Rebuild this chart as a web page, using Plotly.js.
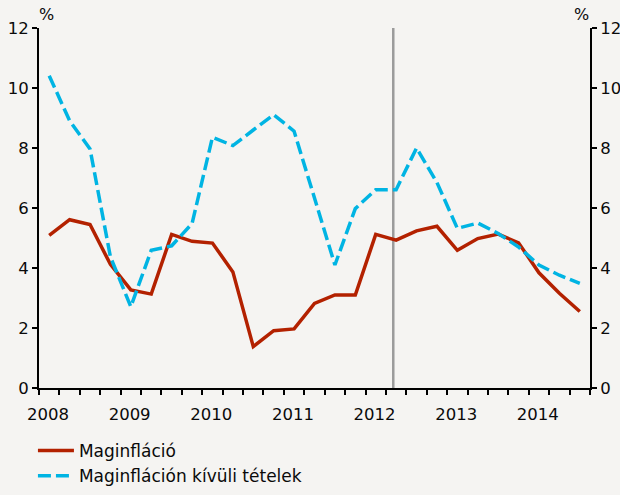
<!DOCTYPE html>
<html>
<head>
<meta charset="utf-8">
<script src="https://cdn.plot.ly/plotly-3.0.1.min.js"></script>
<style>
html, body { margin: 0; padding: 0; background: #f5f4f2; }
#chart { width: 620px; height: 495px; }
</style>
</head>
<body>
<div id="chart"></div>
<script>
// Quarterly observations
const quarters = [
  '2008Q1','2008Q2','2008Q3','2008Q4',
  '2009Q1','2009Q2','2009Q3','2009Q4',
  '2010Q1','2010Q2','2010Q3','2010Q4',
  '2011Q1','2011Q2','2011Q3','2011Q4',
  '2012Q1','2012Q2','2012Q3','2012Q4',
  '2013Q1','2013Q2','2013Q3','2013Q4',
  '2014Q1','2014Q2','2014Q3'
];
const maginflacio = [
  5.09, 5.61, 5.45, 4.12,
  3.27, 3.13, 5.12, 4.89,
  4.83, 3.87, 1.38, 1.91,
  1.97, 2.82, 3.10, 3.10,
  5.12, 4.93, 5.24, 5.39,
  4.59, 4.98, 5.13, 4.84,
  3.84, 3.16, 2.55
];
const kivuliTetelek = [
  10.41, 8.91, 7.97, 4.37,
  2.71, 4.59, 4.74, 5.48,
  8.36, 8.08, 8.60, 9.11,
  8.56, 6.30, 4.10, 5.98,
  6.61, 6.61, 8.00, 6.85,
  5.32, 5.50, 5.15, 4.70,
  4.10, 3.76, 3.49
];
const seriesNames = ['Maginfláció', 'Maginfláción kívüli tételek'];
const yearLabels = ['2008','2009','2010','2011','2012','2013','2014'];
const forecastStart = 2012.34;  // vertical separator (decimal year)

// quarter label -> decimal year at middle of the quarter
function qpos(q) {
  const y = parseInt(q.slice(0, 4), 10);
  const n = parseInt(q.slice(5), 10);
  return y + (n - 0.5) / 4;
}
const xs = quarters.map(qpos);

const firstYear = parseInt(yearLabels[0], 10);
const xMax = Math.max(...xs) + 0.125;

const tickVals = [], tickText = [];
for (let v = firstYear; v <= xMax + 1e-9; v += 0.25) {
  tickVals.push(v);
  const isYear = Math.abs(v - Math.round(v)) < 1e-9;
  tickText.push(isYear && yearLabels.includes(String(Math.round(v))) ? String(Math.round(v)) : '');
}

const FONT = 'DejaVu Sans';
const RED = '#b32100';
const BLUE = '#00b4e3';
const TXT = '#0a0a0a';

const traces = [
  {
    x: xs, y: maginflacio, name: seriesNames[0], type: 'scatter', mode: 'lines',
    line: { color: RED, width: 3.5 }
  },
  {
    x: xs, y: kivuliTetelek, name: seriesNames[1], type: 'scatter', mode: 'lines',
    line: { color: BLUE, width: 3.5, dash: '13px,5px' }
  }
];

const layout = {
  width: 620, height: 495,
  margin: { l: 39, r: 30, t: 28, b: 107 },
  paper_bgcolor: '#f5f4f2',
  plot_bgcolor: '#f5f4f2',
  font: { family: FONT, size: 16.5, color: TXT },
  showlegend: true,
  legend: {
    xref: 'paper', yref: 'container',
    x: -0.011, y: 1 - 433 / 495, xanchor: 'left', yanchor: 'top',
    bgcolor: 'rgba(0,0,0,0)', font: { family: FONT, size: 17, color: TXT },
    tracegroupgap: 0, itemwidth: 36
  },
  xaxis: {
    range: [firstYear, xMax],
    tickmode: 'array', tickvals: tickVals, ticktext: tickText,
    ticks: 'outside', ticklen: 5, tickwidth: 2, tickcolor: '#000',
    ticklabelshift: 9, ticklabelstandoff: 5, tickangle: 0,
    showline: true, linecolor: '#000', linewidth: 2,
    showgrid: false, zeroline: false, fixedrange: true
  },
  yaxis: {
    range: [0, 12], dtick: 2, tick0: 0,
    ticks: 'outside', ticklen: 5, tickwidth: 2, tickcolor: '#000',
    showline: true, linecolor: '#000', linewidth: 2,
    showgrid: false, zeroline: false
  },
  yaxis2: {
    range: [0, 12], dtick: 2, tick0: 0, overlaying: 'y', side: 'right',
    ticks: 'outside', ticklen: 5, tickwidth: 2, tickcolor: '#000',
    showline: true, linecolor: '#000', linewidth: 2,
    showgrid: false, zeroline: false
  },
  shapes: [
    {
      type: 'line', xref: 'x', yref: 'y', x0: forecastStart, x1: forecastStart, y0: 0, y1: 12,
      line: { color: '#9b9b9b', width: 2.5 }, layer: 'below'
    }
  ],
  annotations: [
    { text: '%', xref: 'paper', yref: 'paper', x: 0, y: 1, xanchor: 'left', yanchor: 'bottom',
      showarrow: false, font: { family: FONT, size: 16, color: TXT }, xshift: -2, yshift: 2 },
    { text: '%', xref: 'paper', yref: 'paper', x: 1, y: 1, xanchor: 'right', yanchor: 'bottom',
      showarrow: false, font: { family: FONT, size: 16, color: TXT }, xshift: 1, yshift: 2 }
  ]
};

// invisible trace to activate the right axis
traces.push({ x: [xs[0]], y: [maginflacio[0]], yaxis: 'y2', type: 'scatter', mode: 'markers',
  marker: { opacity: 0 }, showlegend: false, hoverinfo: 'skip' });

Plotly.newPlot('chart', traces, layout, { staticPlot: true, displayModeBar: false });
</script>
</body>
</html>
